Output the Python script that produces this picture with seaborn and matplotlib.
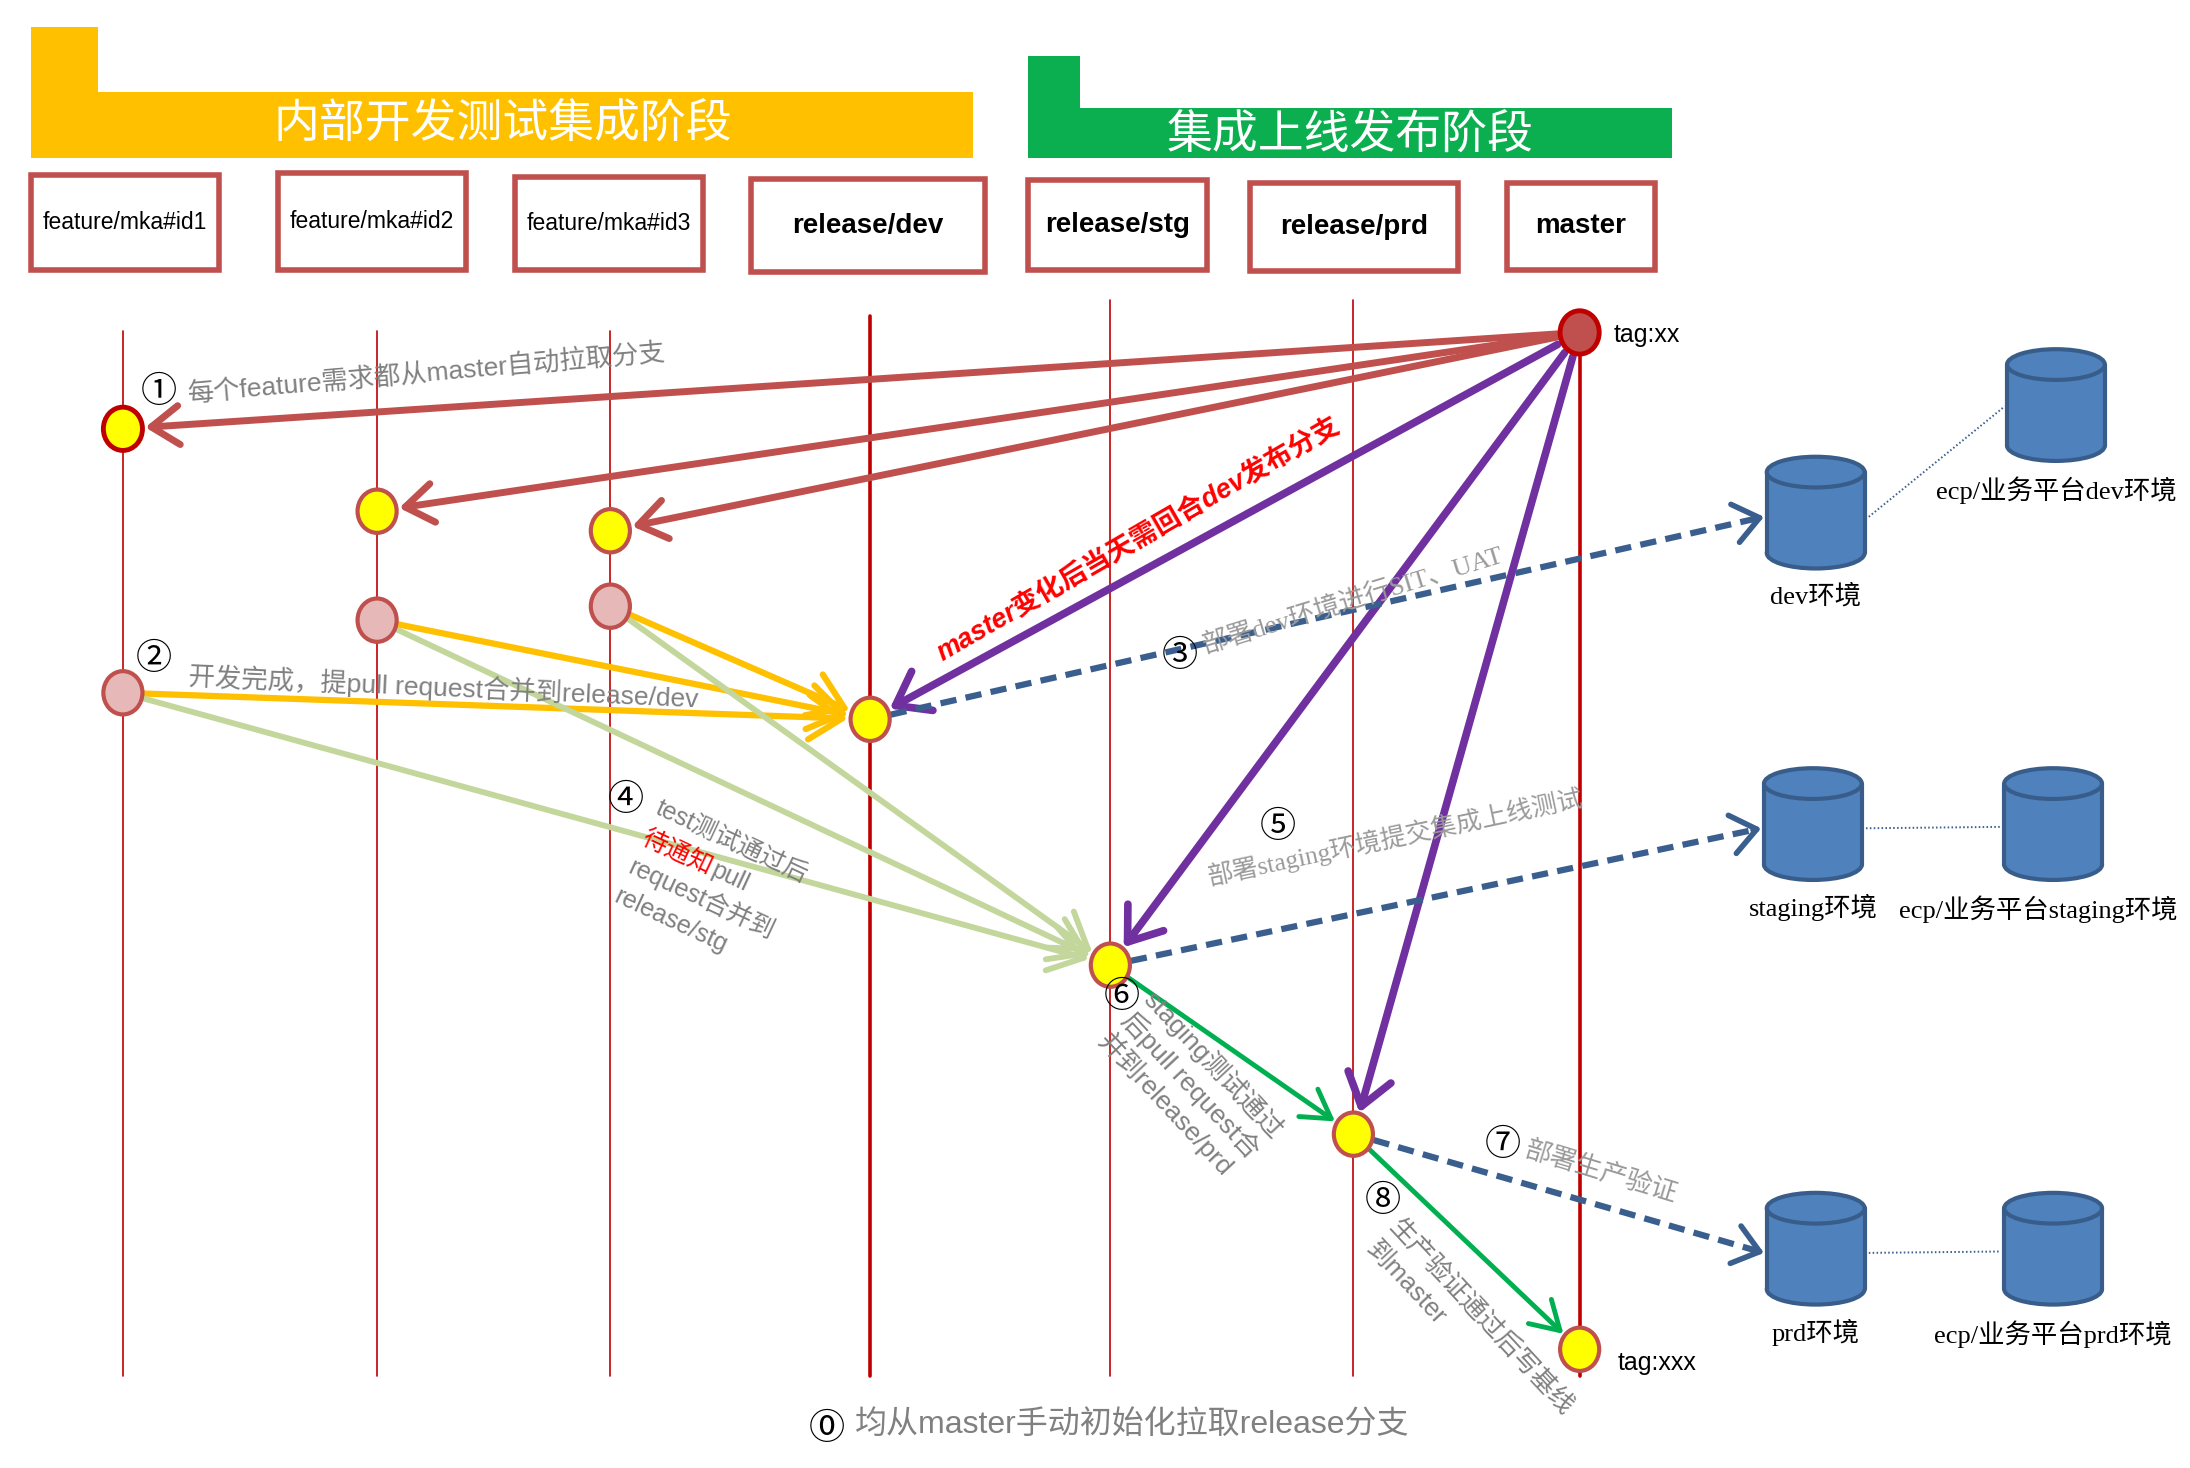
import numpy as np
import pandas as pd
import matplotlib
matplotlib.use('Agg')
import matplotlib.pyplot as plt
import seaborn as sns
from matplotlib.patches import Polygon, Rectangle, Ellipse, FancyArrowPatch

# ---- data -------------------------------------------------------------
stages = ['内部开发测试集成阶段', '集成上线发布阶段']
lanes = ['feature/mka#id1', 'feature/mka#id2', 'feature/mka#id3',
         'release/dev', 'release/stg', 'release/prd', 'master']
lane_bold = [False, False, False, True, True, True, True]

# commits: which lane, how far down the timeline, what kind
node_lane = [6, 0, 1, 2, 1, 2, 0, 3, 4, 5, 6]
node_row = [238, 307, 366, 380, 444, 434, 496, 515, 691, 812, 966]
node_kind = ['tag', 'first', 'new', 'new', 'done', 'done', 'done',
             'merge', 'merge', 'merge', 'merge']
tag_names = ['tag:xx', 'tag:xxx']

pull_edges = [(0, 1), (0, 2), (0, 3)]       # master -> feature
sync_edges = [(0, 7), (0, 8), (0, 9)]       # master -> release/*
dev_edges = [(6, 7), (4, 7), (5, 7)]        # feature -> release/dev
stg_edges = [(6, 8), (4, 8), (5, 8)]        # feature -> release/stg
promote_edges = [(8, 9), (9, 10)]           # stg -> prd -> master
deploy_from = [7, 8, 9]

env_names = ['dev环境', 'staging环境', 'prd环境']
platform_names = ['ecp/业务平台dev环境', 'ecp/业务平台staging环境', 'ecp/业务平台prd环境']

notes = {
    '0': '均从master手动初始化拉取release分支',
    '1': '每个feature需求都从master自动拉取分支',
    '2': '开发完成，提pull request合并到release/dev',
    'm': 'master变化后当天需回合dev发布分支',
    '3': '部署dev环境进行SIT、UAT',
    '4': ['test测试通过后', '待通知', 'request合并到', 'release/stg'],
    '5': '部署staging环境提交集成上线测试',
    '6': ['staging测试通过', '后pull request合', '并到release/prd'],
    '7': '部署生产验证',
    '8': ['生产验证通过后写基线', '到master'],
}

# ---- layout -----------------------------------------------------------
lane_x = [88, 270, 437, 623, 795, 969, 1131]
lane_top = [237, 237, 237, 226, 215, 215, 237]
lane_bottom = 985
box_left = [22, 199, 369, 538, 736, 895, 1079]
box_right = [157, 334, 503, 705, 864, 1044, 1185]
box_top = [125, 124, 127, 128, 129, 131, 131]
box_bottom = [193, 193, 193, 195, 193, 194, 193]
env_x = [1300, 1298, 1300]
env_top = [327, 550, 854]
plat_x = [1472, 1470, 1470]
plat_top = [250, 550, 854]

RED = '#C0504D'
DARKRED = '#C00000'
PURPLE = '#7030A0'
GOLD = '#FFC000'
PALE = '#C3D69B'
GREEN = '#00B050'
NAVY = '#3A5F8E'
BLUE = '#4F81BD'
GREY = '#808080'

SANS = ['Liberation Sans', 'Noto Sans CJK SC', 'DejaVu Sans']
CJK = ['Noto Sans CJK SC', 'DejaVu Sans']
SERIF = ['Liberation Serif', 'Noto Sans CJK SC', 'DejaVu Sans']

sns.set_theme(style='white')
plt.rcParams['font.family'] = SANS

fig = plt.figure(figsize=(21.9, 14.68), dpi=100)
ax = fig.add_axes([0, 0, 1, 1])

# lanes
lane_df = pd.DataFrame({
    'lane': np.repeat(lanes, 2),
    'x': np.repeat(lane_x, 2),
    'y': np.ravel(np.column_stack([lane_top, [lane_bottom] * len(lanes)])),
})
thick = lane_df['lane'].isin(['release/dev', 'master'])
sns.lineplot(data=lane_df[~thick], x='x', y='y', units='lane', estimator=None,
             sort=False, color=DARKRED, lw=1.2, ax=ax, legend=False)
sns.lineplot(data=lane_df[thick], x='x', y='y', units='lane', estimator=None,
             sort=False, color=DARKRED, lw=2.6, ax=ax, legend=False)

# stage banners
ax.add_patch(Polygon([(22, 19), (70, 19), (70, 66), (697, 66), (697, 113), (22, 113)],
                     closed=True, fc=GOLD, ec='none'))
ax.add_patch(Polygon([(736, 40), (773, 40), (773, 77), (1197, 77), (1197, 113), (736, 113)],
                     closed=True, fc='#0BAF50', ec='none'))
ax.text(360, 89, stages[0], fontsize=33, color='white', ha='center', va='center', family=CJK)
ax.text(967, 97, stages[1], fontsize=33, color='white', ha='center', va='center', family=CJK)

# branch boxes
for i, name in enumerate(lanes):
    ax.add_patch(Rectangle((box_left[i], box_top[i]), box_right[i] - box_left[i],
                           box_bottom[i] - box_top[i], fc='white', ec=RED, lw=4))
    ax.text((box_left[i] + box_right[i]) / 2, (box_top[i] + box_bottom[i]) / 2, name,
            fontsize=20 if lane_bold[i] else 16.5, fontweight='bold' if lane_bold[i] else 'normal',
            ha='center', va='center', color='black')

pos = np.array([[lane_x[l], r] for l, r in zip(node_lane, node_row)], float)


def arrow(p, q, color, lw, r0=15, r1=16, hl=0.5, hw=0.35, scale=40, z=3):
    p, q = np.asarray(p, float), np.asarray(q, float)
    u = (q - p) / np.linalg.norm(q - p)
    ax.add_patch(FancyArrowPatch(p + u * r0, q - u * r1,
                                 arrowstyle=f'->,head_length={hl},head_width={hw}',
                                 mutation_scale=scale, lw=lw, color=color,
                                 shrinkA=0, shrinkB=0, zorder=z))


def dashed(p, q, r0=15):
    p, q = np.asarray(p, float), np.asarray(q, float)
    u = (q - p) / np.linalg.norm(q - p)
    a = p + u * r0
    ax.plot([a[0], q[0] - u[0] * 3], [a[1], q[1] - u[1] * 3], color=NAVY, lw=4.5,
            ls=(0, (2.6, 1.5)), zorder=3, solid_capstyle='butt')
    arrow(q - u * 6, q, NAVY, 4, r0=0, r1=0, hl=0.45, hw=0.35, z=3)


for a, b in dev_edges:
    arrow(pos[a], pos[b], GOLD, 4.5, r1=16, hl=0.6, hw=0.4)
for a, b in stg_edges:
    arrow(pos[a], pos[b], PALE, 4.2, r1=16, hl=0.6, hw=0.4)
for a, b in pull_edges:
    arrow(pos[a], pos[b], RED, 5)
for a, b in sync_edges:
    arrow(pos[a], pos[b], PURPLE, 5.5, r0=18, hl=0.55, hw=0.4)
for a, b in promote_edges:
    arrow(pos[a], pos[b], GREEN, 3.5, hl=0.5, hw=0.3)
for k, n in enumerate(deploy_from):
    dashed(pos[n], (env_x[k] - 37, env_top[k] + 43))

# commits
node_fill = {'tag': RED, 'first': '#FFFF00', 'new': '#FFFF00', 'done': '#E6B9B8', 'merge': '#FFFF00'}
node_edge = {'tag': DARKRED, 'first': DARKRED, 'new': RED, 'done': RED, 'merge': RED}
for (x, y), kind in zip(pos, node_kind):
    ax.add_patch(Ellipse((x, y), 28, 31, fc=node_fill[kind], ec=node_edge[kind],
                         lw=3.5 if kind in ('tag', 'first') else 3, zorder=5))
ax.text(pos[0, 0] + 24, pos[0, 1] + 2, tag_names[0], fontsize=18, va='center', color='black')
ax.text(pos[10, 0] + 27, pos[10, 1] + 10, tag_names[1], fontsize=18, va='center', color='black')


# environments
def cylinder(cx, top, w=70, h=80, cap=22):
    bot = top + h
    kw = dict(fc=BLUE, ec='#385D8A', lw=3, zorder=4)
    ax.add_patch(Ellipse((cx, bot - cap / 2), w, cap, **kw))
    ax.add_patch(Rectangle((cx - w / 2, top + cap / 2), w, h - cap, fc=BLUE, ec='none', zorder=4))
    ax.plot([cx - w / 2] * 2, [top + cap / 2, bot - cap / 2], color='#385D8A', lw=3, zorder=4)
    ax.plot([cx + w / 2] * 2, [top + cap / 2, bot - cap / 2], color='#385D8A', lw=3, zorder=4)
    ax.add_patch(Ellipse((cx, top + cap / 2), w, cap, **kw))


for k in range(3):
    cylinder(env_x[k], env_top[k])
    cylinder(plat_x[k], plat_top[k])
    ax.plot([env_x[k] + 38, plat_x[k] - 38], [env_top[k] + 43, plat_top[k] + 42],
            color=NAVY, lw=1.4, ls=(0, (0.8, 1.2)), zorder=3)
    ax.text(env_x[k], env_top[k] + 100, env_names[k], fontsize=19, ha='center',
            va='center', family=SERIF, color='black')
    ax.text(plat_x[k] - (11 if k == 1 else 0), plat_top[k] + 101, platform_names[k],
            fontsize=19, ha='center', va='center', family=SERIF, color='black')


# notes
def note(x, y, s, size=19, rot=0, color=GREY, ha='left', family=SANS, **kw):
    ax.text(x, y, s, fontsize=size, rotation=rot, rotation_mode='anchor', ha=ha,
            va='center', color=color, family=family, zorder=6, **kw)


def circled(x, y, s, size=26):
    note(x, y, s, size=size, color='black', ha='center', family=CJK)


def block(x, y, lines, rot, size=19, step=23):
    r = np.deg2rad(rot)
    d = np.array([np.cos(r), -np.sin(r)])
    perp = np.array([np.sin(r), np.cos(r)])
    for i, s in enumerate(lines):
        p = np.array([x, y]) + perp * step * i
        note(p[0], p[1], s, size=size, rot=rot)
    return d, perp


circled(114, 281, '①')
note(135, 283, notes['1'], rot=5)
circled(110, 472, '②')
note(135, 484, notes['2'], rot=-2.5)
note(815, 386, notes['m'], size=19.5, rot=30, color='#FF0000', ha='center',
     fontweight='bold', style='italic')
circled(845, 470, '③')
note(861, 462, notes['3'], size=19, rot=17, color='#9A9A9A', family=SERIF)
circled(448, 573, '④')
d, perp = block(470, 578, [notes['4'][0], '', notes['4'][2], notes['4'][3]], -25, size=18)
p2 = np.array([470, 578]) + perp * 23
note(p2[0], p2[1], notes['4'][1], size=18, rot=-25, color='#FF0000')
p3 = p2 + d * 55
note(p3[0], p3[1], 'pull', size=18, rot=-25)
circled(915, 592, '⑤')
note(865, 628, notes['5'], size=18.5, rot=12, color='#9A9A9A', family=SERIF)
circled(803, 714, '⑥')
block(822, 712, notes['6'], -47, size=19, step=22)
circled(1076, 820, '⑦')
note(1092, 822, notes['7'], size=19, rot=-17, color='#9A9A9A', family=SERIF)
circled(990, 860, '⑧')
block(997, 876, notes['8'], -47, size=18.5, step=22)
circled(592, 1023, '⓪', size=26)
note(612, 1020, notes['0'], size=23)

ax.set_xlim(0, 1568)
ax.set_ylim(1051, 0)
ax.set_axis_off()
fig.savefig('out.png', dpi=100, facecolor='white')
